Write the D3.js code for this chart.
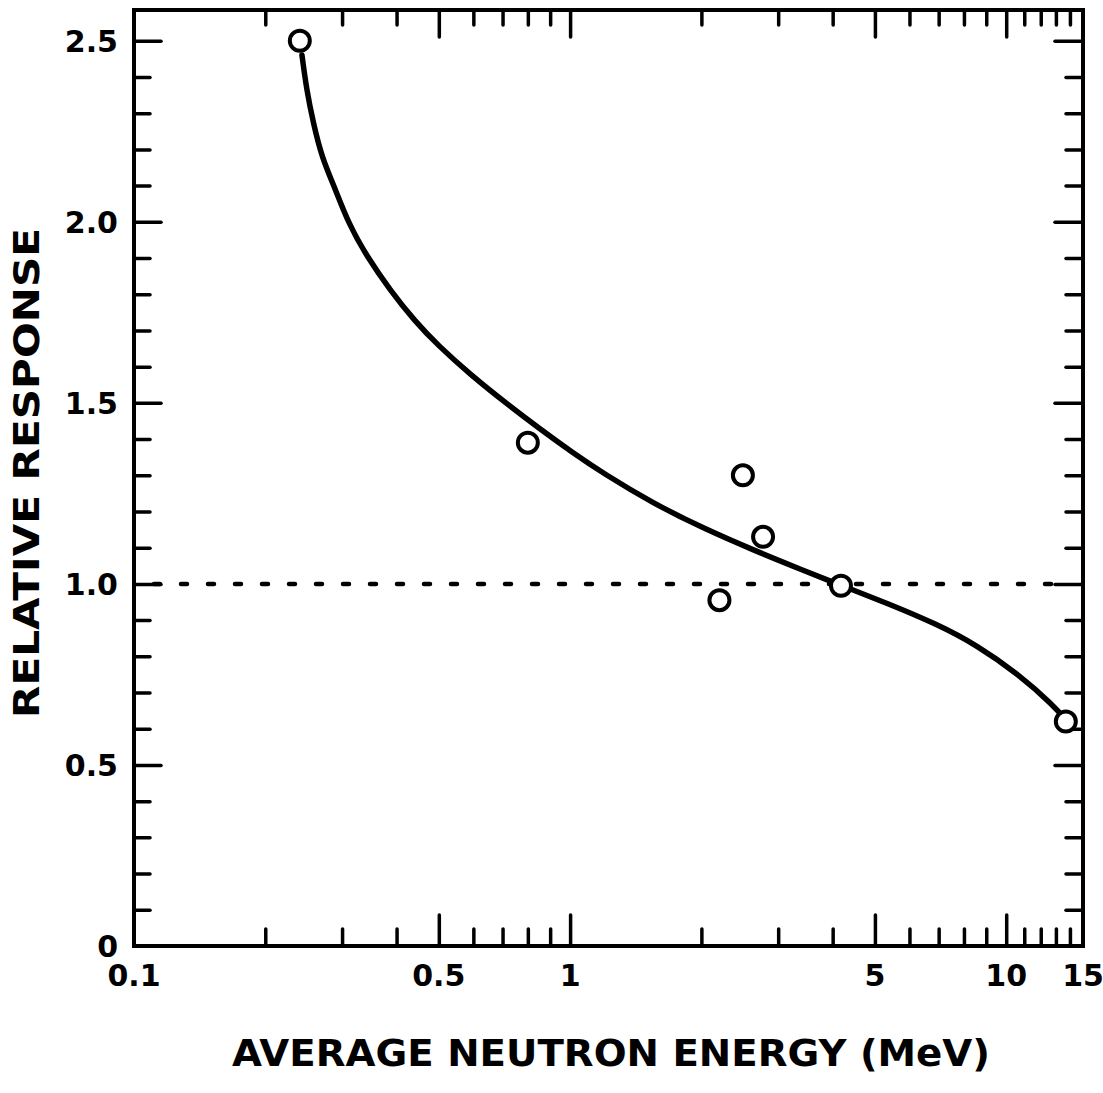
<!DOCTYPE html>
<html>
<head>
<meta charset="utf-8">
<script src="https://cdn.jsdelivr.net/npm/d3@7"></script>
<style>
  body { margin: 0; background: #fff; }
  svg { display: block; }
  text { font-family: "DejaVu Sans", sans-serif; fill: #000; }
</style>
</head>
<body>
<div id="chart"></div>
<script>
// measured points (average energy MeV, relative response)
const pointEnergy = [0.24, 0.80, 2.20, 2.49, 2.77, 4.18, 13.7];
const pointResponse = [2.50, 1.39, 0.955, 1.30, 1.13, 0.995, 0.62];

// hand drawn curve
const curveEnergy = [0.2427, 0.2488, 0.2577, 0.2694, 0.2889, 0.3099, 0.3416, 0.3863, 0.4409, 0.4977, 0.5892, 0.7165, 0.8527, 1.015, 1.189, 1.548, 2.016, 2.625, 3.418, 4.222, 5.324, 6.933, 8.564, 10.74, 12.79, 13.84];
const curveResponse = [2.461, 2.364, 2.273, 2.179, 2.093, 1.997, 1.905, 1.812, 1.725, 1.659, 1.579, 1.497, 1.428, 1.362, 1.306, 1.223, 1.154, 1.094, 1.038, 0.994, 0.947, 0.889, 0.831, 0.748, 0.666, 0.619];

const referenceLevel = [1.0];

const xMajorTicks = [0.1, 0.5, 1, 5, 10, 15];
const xMajorLabels = ["0.1", "0.5", "1", "5", "10", "15"];
const xMinorTicks = [0.2, 0.3, 0.4, 0.6, 0.7, 0.8, 0.9, 2, 3, 4, 6, 7, 8, 9, 11, 12, 13, 14];
const yMajorTicks = [0, 0.5, 1.0, 1.5, 2.0, 2.5];
const yMajorLabels = ["0", "0.5", "1.0", "1.5", "2.0", "2.5"];
const yMinorTicks = [0.1, 0.2, 0.3, 0.4, 0.6, 0.7, 0.8, 0.9, 1.1, 1.2, 1.3, 1.4, 1.6, 1.7, 1.8, 1.9, 2.1, 2.2, 2.3, 2.4];

const W = 1103, H = 1093;
const margin = { top: 10, right: 20, bottom: 147, left: 134 };
const width = W - margin.left - margin.right,
      height = H - margin.top - margin.bottom;

const svg = d3.select("#chart").append("svg")
  .attr("width", W).attr("height", H);
const g = svg.append("g")
  .attr("transform", "translate(" + margin.left + "," + margin.top + ")");

const x = d3.scaleLog().domain([0.1, 15]).range([0, width]);
const y = d3.scaleLinear().domain([0, 2.585]).range([height, 0]);

// tick marks, all pointing into the frame
function ticks(axis, values, size, transform) {
  const a = g.append("g")
    .attr("transform", transform || null)
    .call(axis.tickValues(values).tickSizeInner(-size).tickSizeOuter(0).tickFormat(""));
  a.select(".domain").remove();
  a.selectAll("line").attr("stroke", "#000").attr("stroke-width", 3.5).attr("stroke-linecap", "round");
  return a;
}
ticks(d3.axisBottom(x), xMajorTicks.slice(1, -1), 31, "translate(0," + height + ")");
ticks(d3.axisBottom(x), xMinorTicks, 17, "translate(0," + height + ")");
ticks(d3.axisTop(x), xMajorTicks.slice(1, -1), 27);
ticks(d3.axisTop(x), xMinorTicks, 15);
ticks(d3.axisLeft(y), yMajorTicks.slice(1), 27);
ticks(d3.axisLeft(y), yMinorTicks, 16);
ticks(d3.axisRight(y), yMajorTicks.slice(1), 28, "translate(" + width + ",0)");
ticks(d3.axisRight(y), yMinorTicks, 17, "translate(" + width + ",0)");

// frame
g.append("rect")
  .attr("x", 0).attr("y", 0).attr("width", width).attr("height", height)
  .attr("fill", "none").attr("stroke", "#000").attr("stroke-width", 4);

// tick labels
g.append("g").selectAll("text")
  .data(xMajorTicks)
  .enter().append("text")
  .attr("x", d => x(d))
  .attr("y", height + 40)
  .attr("text-anchor", "middle")
  .style("font-size", "30px").style("font-weight", "bold")
  .text((d, i) => xMajorLabels[i]);

g.append("g").selectAll("text")
  .data(yMajorTicks)
  .enter().append("text")
  .attr("x", -16)
  .attr("y", d => y(d) + 11)
  .attr("text-anchor", "end")
  .style("font-size", "30px").style("font-weight", "bold")
  .text((d, i) => yMajorLabels[i]);

// dotted reference line at 1.0
g.append("g").selectAll("line")
  .data(referenceLevel)
  .enter().append("line")
  .attr("x1", 20).attr("x2", width - 22)
  .attr("y1", d => y(d)).attr("y2", d => y(d))
  .attr("stroke", "#000").attr("stroke-width", 4.5)
  .attr("stroke-dasharray", "6,21").attr("stroke-linecap", "round");

// fitted curve (smoothed through the read points)
const curveData = curveEnergy.map((e, i) => [e, curveResponse[i]]);
g.append("path")
  .datum(curveData)
  .attr("fill", "none").attr("stroke", "#000").attr("stroke-width", 5.5)
  .attr("stroke-linecap", "round")
  .attr("d", d3.line().x(d => x(d[0])).y(d => y(d[1])).curve(d3.curveBasis));

// data points
g.append("g").selectAll("circle")
  .data(pointEnergy.map((e, i) => [e, pointResponse[i]]))
  .enter().append("circle")
  .attr("cx", d => x(d[0])).attr("cy", d => y(d[1]))
  .attr("r", 10)
  .attr("fill", "#fff").attr("stroke", "#000").attr("stroke-width", 4);

// axis titles
svg.append("text")
  .attr("transform", "translate(39,473) rotate(-90)")
  .attr("text-anchor", "middle")
  .attr("textLength", 490).attr("lengthAdjust", "spacingAndGlyphs")
  .style("font-size", "36px").style("font-weight", "bold")
  .text("RELATIVE  RESPONSE");

svg.append("text")
  .attr("x", 611).attr("y", 1066)
  .attr("text-anchor", "middle")
  .attr("textLength", 758).attr("lengthAdjust", "spacingAndGlyphs")
  .style("font-size", "38px").style("font-weight", "bold")
  .text("AVERAGE  NEUTRON  ENERGY  (MeV)");
</script>
</body>
</html>
